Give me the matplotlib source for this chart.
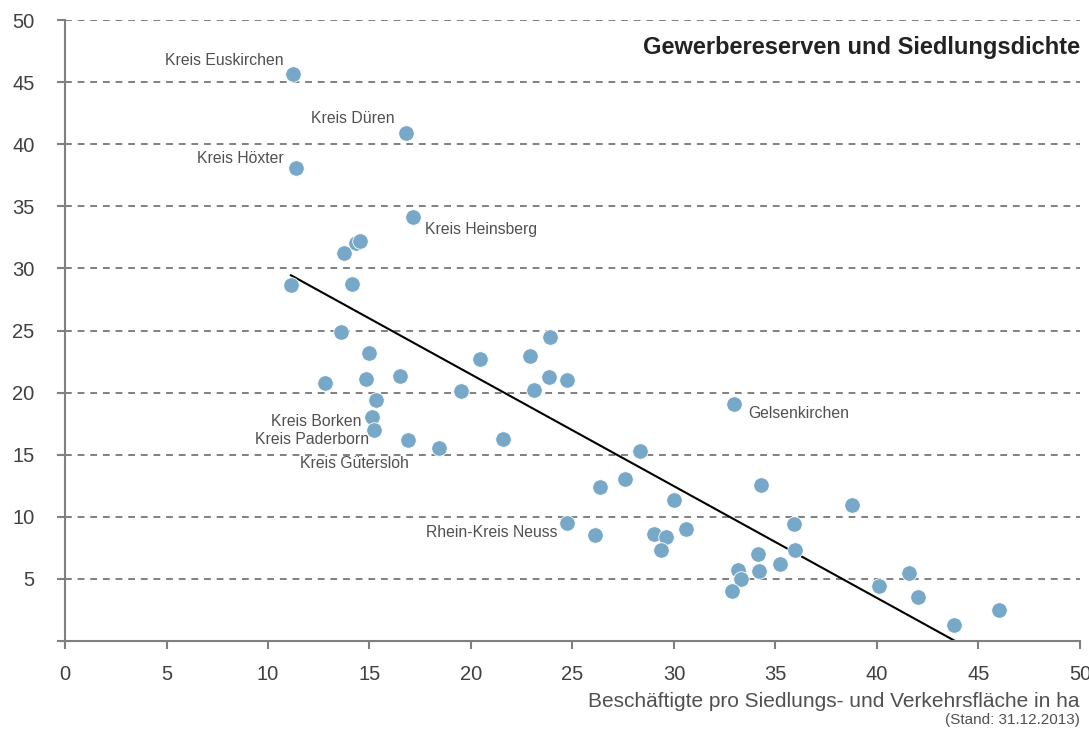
import numpy as np
import matplotlib.pyplot as plt

plt.rcParams['font.family'] = ['Liberation Sans', 'DejaVu Sans']

# Beschäftigte pro ha Siedlungs- und Verkehrsfläche / Gewerbereserven
beschaeftigte = [11.23, 16.80, 11.38, 17.14, 14.35, 14.55, 13.73, 11.13, 14.15, 13.58,
                 14.96, 12.81, 14.81, 16.52, 15.30, 15.14, 15.22, 16.91, 18.42, 19.51,
                 20.43, 21.56, 22.91, 23.89, 23.84, 23.10, 24.73, 32.96, 28.33, 26.34,
                 27.59, 30.01, 34.29, 38.78, 24.73, 26.10, 29.01, 29.59, 29.34, 30.59,
                 33.15, 33.32, 32.86, 34.12, 34.20, 35.24, 35.90, 35.98, 40.11, 41.56,
                 42.00, 43.78, 46.03]
reserven = [45.66, 40.92, 38.10, 34.16, 32.05, 32.20, 31.25, 28.67, 28.72, 24.87,
            23.15, 20.80, 21.06, 21.33, 19.40, 18.06, 17.02, 16.18, 15.54, 20.12,
            22.67, 16.26, 22.91, 24.44, 21.22, 20.18, 20.98, 19.05, 15.27, 12.43,
            13.02, 11.39, 12.60, 10.93, 9.49, 8.54, 8.62, 8.41, 7.31, 8.98,
            5.68, 5.01, 4.00, 7.02, 5.63, 6.19, 9.41, 7.34, 4.42, 5.47,
            3.56, 1.26, 2.49]

# Trendlinie (Anfang und Ende)
trend_x = [11.13, 43.85]
trend_y = [29.45, 0.0]

# beschriftete Kreise: (Index, Name, Versatz in pt, Ausrichtung)
labels = [
    (0, 'Kreis Euskirchen', (-7, 9.5), 'right'),
    (1, 'Kreis Düren', (-8, 10), 'right'),
    (2, 'Kreis Höxter', (-9, 6.5), 'right'),
    (3, 'Kreis Heinsberg', (9, -9), 'left'),
    (27, 'Gelsenkirchen', (10, -6.5), 'left'),
    (34, 'Rhein-Kreis Neuss', (-6.5, -7), 'right'),
    (15, 'Kreis Borken', (-8, -3.6), 'right'),
    (16, 'Kreis Paderborn', (-3.6, -7), 'right'),
    (17, 'Kreis Gütersloh', (0.7, -17), 'right'),
]

fig = plt.figure(figsize=(10.89, 7.31), dpi=100)
ax = fig.add_axes([0.0597, 0.1231, 0.932, 0.8495])

for y in range(5, 55, 5):
    ax.axhline(y, color='#808080', lw=1.4, ls=(0, (3.5, 3)), zorder=1)

ax.plot(trend_x, trend_y, color='black', lw=1.5, zorder=2)
ax.scatter(beschaeftigte, reserven, s=125, color='#77a8c8',
           edgecolor='white', linewidth=0.6, zorder=3)

for i, name, off, ha in labels:
    ax.annotate(name, (beschaeftigte[i], reserven[i]), xytext=off,
                textcoords='offset points', ha=ha, va='center',
                fontsize=11.3, color='#505050')

ax.set_xlim(0, 50)
ax.set_ylim(0, 50)
ax.set_xticks(range(0, 55, 5))
ax.set_yticks(range(0, 55, 5))
ax.set_yticklabels([''] + [str(v) for v in range(5, 55, 5)])

for s in ['top', 'right']:
    ax.spines[s].set_visible(False)
for s in ['left', 'bottom']:
    ax.spines[s].set_color('#808080')
    ax.spines[s].set_linewidth(1.5)

ax.tick_params(axis='y', direction='out', length=6, width=1.5,
               color='#808080', labelsize=14.5, labelcolor='#404040', pad=16)
ax.tick_params(axis='x', direction='out', length=6, width=1.5,
               color='#808080', labelsize=14.5, labelcolor='#404040', pad=11)

ax.text(1.0, 0.955, 'Gewerbereserven und Siedlungsdichte', transform=ax.transAxes,
        ha='right', va='center', fontsize=17, fontweight='bold', color='#222222')

fig.text(0.9917, 0.041, 'Beschäftigte pro Siedlungs- und Verkehrsfläche in ha',
         ha='right', va='center', fontsize=15, color='#505050')
fig.text(0.9917, 0.015, '(Stand: 31.12.2013)', ha='right', va='center',
         fontsize=11, color='#505050')

plt.savefig('out.png', dpi=100)
